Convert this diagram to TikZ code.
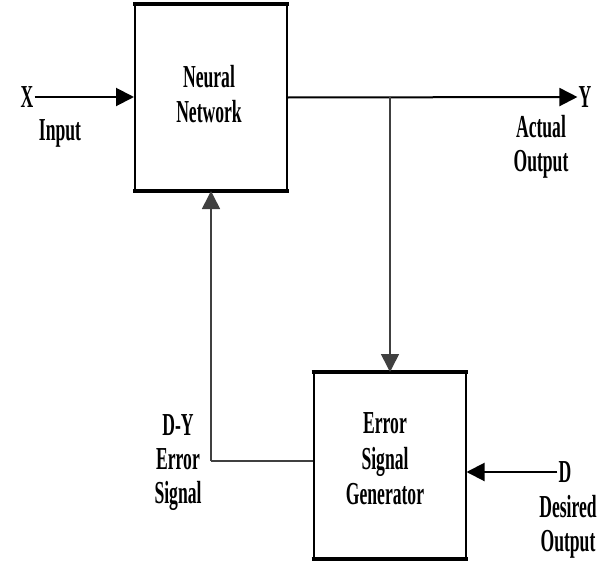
\documentclass[tikz,border=0pt]{standalone}
\usepackage{fontspec}
\setmainfont{Liberation Serif}[FakeStretch=0.55]
\usetikzlibrary{arrows.meta}
\begin{document}
\begin{tikzpicture}[x=1pt,y=-1pt,
  lbl/.style={font=\bfseries\fontsize{32}{34}\selectfont, align=center, inner sep=1pt},
  blk/.style={draw, line width=2pt, minimum width=152pt, minimum height=185pt},
  btxt/.style={font=\bfseries\fontsize{32}{35.5}\selectfont, align=center, inner sep=0pt},
  wire/.style={line width=2pt, black},
  gwire/.style={line width=1.6pt, black!75},
  arr/.style={-{Triangle[length=18pt,width=18pt]}}]
\useasboundingbox (0,0) rectangle (606,562);
\node[blk] (nn) at (211,97.5) {};
\node[blk] (esg) at (389.5,465.5) {};
\node[btxt] (nnt) at (209,94) {Neural\\Network};
\node[btxt] (esgt) at (385,459) {Error\\Signal\\Generator};
\foreach \b in {nn,esg}{
  \draw[line width=4.5pt] ([xshift=-1pt]\b.north west) -- ([xshift=1pt]\b.north east);
  \draw[line width=4.5pt] ([xshift=-1pt]\b.south west) -- ([xshift=1pt]\b.south east);
}
\node[lbl] (x) at (27,97) {X};
\node[lbl] (in) at (60,133) {Input};
\node[lbl] (y) at (585,97) {Y};
\node[lbl] (ao) at (541,147) {Actual\\Output};
\node[lbl] (d) at (565,472) {D};
\node[lbl] (do) at (568,527) {Desired\\Output};
\node[lbl] (dy) at (178,463) {D-Y\\Error\\Signal};
\coordinate (br) at (390,97);
\coordinate (fb) at (211,461);
\draw[wire,arr] (x.east) -- (x -| nn.west);
\draw[wire,arr] (nn.east) -- (y.west);
\draw[gwire,arr] (br) -- (br |- esg.north);
\draw[gwire] (fb -| esg.west) -- (fb);
\draw[gwire,arr] (fb) -- (nn.south);
\draw[wire,arr] (d.west) -- (d -| esg.east);
\end{tikzpicture}
\end{document}
